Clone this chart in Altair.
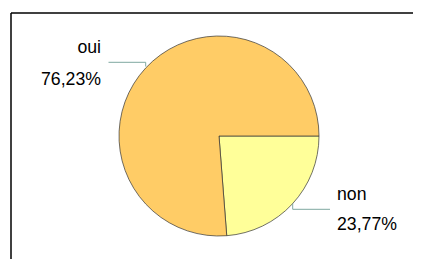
import math
import altair as alt
import pandas as pd

categories = ["non", "oui"]
values = [23.77, 76.23]
value_labels = ["23,77%", "76,23%"]
colors = ["#FFFF99", "#FFCC66"]

df = pd.DataFrame({"cat": categories, "val": values, "lab": value_labels, "ord": [0, 1]})

W, H = 405, 251
CX, CY, R = 211, 128, 100

pie = alt.Chart(df).mark_arc(outerRadius=R, stroke="#333333", strokeWidth=0.7).encode(
    theta=alt.Theta("val:Q", stack=True,
                    scale=alt.Scale(range=[math.pi / 2, math.pi / 2 + 2 * math.pi])),
    order=alt.Order("ord:Q"),
    color=alt.Color("cat:N", scale=alt.Scale(domain=categories, range=colors), legend=None),
    x=alt.value(CX), y=alt.value(CY),
)

frame_df = pd.DataFrame({"k": [0]})
line_col = "#7FA8A0"
top = alt.Chart(frame_df).mark_rule(color="black", strokeWidth=1.5).encode(
    x=alt.value(3), x2=alt.value(W), y=alt.value(5))
left = alt.Chart(frame_df).mark_rule(color="black", strokeWidth=1.5).encode(
    x=alt.value(3), y=alt.value(5), y2=alt.value(H))

lead1 = alt.Chart(frame_df).mark_rule(color=line_col, strokeWidth=1).encode(
    x=alt.value(100.5), x2=alt.value(137.7), y=alt.value(54.3))
lead1b = alt.Chart(frame_df).mark_rule(color=line_col, strokeWidth=1).encode(
    x=alt.value(137.7), y=alt.value(54.3), y2=alt.value(58.5))
lead2 = alt.Chart(frame_df).mark_rule(color=line_col, strokeWidth=1).encode(
    x=alt.value(284.7), x2=alt.value(322), y=alt.value(201.3))
lead2b = alt.Chart(frame_df).mark_rule(color=line_col, strokeWidth=1).encode(
    x=alt.value(284.7), y=alt.value(195.6), y2=alt.value(201.3))

font = "Liberation Sans"
fs = 17.7
oui_df = df[df.cat == "oui"]
non_df = df[df.cat == "non"]
t1 = alt.Chart(oui_df).mark_text(align="right", baseline="alphabetic", font=font, fontSize=fs, color="black").encode(
    text="cat:N", x=alt.value(93), y=alt.value(45))
t2 = alt.Chart(oui_df).mark_text(align="right", baseline="alphabetic", font=font, fontSize=fs, color="black").encode(
    text="lab:N", x=alt.value(93), y=alt.value(77))
t3 = alt.Chart(non_df).mark_text(align="left", baseline="alphabetic", font=font, fontSize=fs, color="black").encode(
    text="cat:N", x=alt.value(329), y=alt.value(192))
t4 = alt.Chart(non_df).mark_text(align="left", baseline="alphabetic", font=font, fontSize=fs, color="black").encode(
    text="lab:N", x=alt.value(329), y=alt.value(222))

chart = alt.layer(pie, top, left, lead1, lead1b, lead2, lead2b, t1, t2, t3, t4).properties(
    width=W, height=H, padding=0, autosize="none", background="white"
).configure_view(stroke=None)

chart.save("out.html", embed_options={"renderer": "svg", "actions": False})
